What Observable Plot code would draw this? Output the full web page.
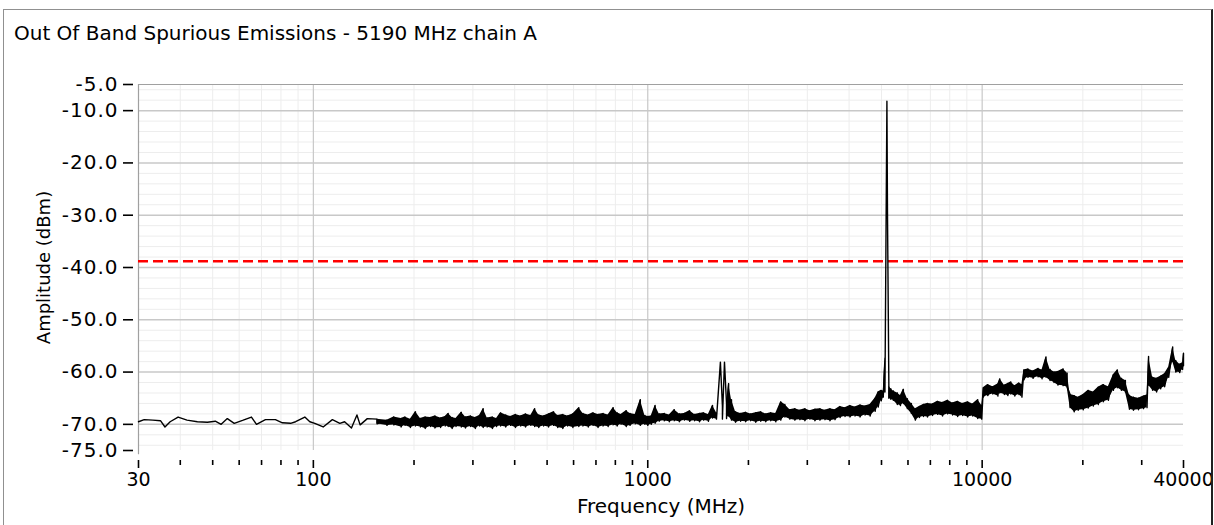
<!DOCTYPE html>
<html>
<head>
<meta charset="utf-8">
<script src="https://cdn.jsdelivr.net/npm/d3@7"></script>
<script src="https://cdn.jsdelivr.net/npm/@observablehq/plot@0.6"></script>
<style>
html, body { margin: 0; padding: 0; background: #fff; }
#wrap { position: relative; width: 1214px; height: 525px; overflow: hidden; font-family: "DejaVu Sans", sans-serif; background: #fff; }
#title { position: absolute; left: 14px; top: 22px; font-size: 20px; line-height: 23px; white-space: nowrap; color: #000; }
#chart { position: absolute; left: 0; top: 50px; }
#frame { position: absolute; left: 3px; top: 9px; width: 1207px; height: 520px; border-left: 1px solid #909090; border-top: 1px solid #909090; border-right: 2px solid #202020; pointer-events: none; }
.yt text { letter-spacing: 1px; }
</style>
</head>
<body>
<div id="wrap">
  <div id="title"></div>
  <div id="chart"></div>
  <div id="frame"></div>
</div>
<script>
const chartTitle = "Out Of Band Spurious Emissions - 5190 MHz chain A";
const xAxisLabel = "Frequency (MHz)";
const yAxisLabel = "Amplitude (dBm)";

const limitDbm = -38.8;

const yTickValues = [-5, -10, -20, -30, -40, -50, -60, -70, -75];
const yMajorGrid = [-10, -20, -30, -40, -50, -60, -70];
const yMinorGrid = [-6, -8, -12, -14, -16, -18, -22, -24, -26, -28, -32, -34, -36, -38, -42, -44, -46, -48, -52, -54, -56, -58, -62, -64, -66, -68, -72, -74];

const xTickLabels = [30, 100, 1000, 10000, 40000];
const xMajorGrid = [100, 1000, 10000];
const xMinorGrid = [40, 50, 60, 70, 80, 90, 200, 300, 400, 500, 600, 700, 800, 900, 2000, 3000, 4000, 5000, 6000, 7000, 8000, 9000, 20000, 30000];

// trace samples: frequency (MHz), upper and lower envelope of the trace (dBm)
const freqMHz = [
  30, 31.2, 33.1, 34.9, 36.0, 37.3, 39.4, 41.9, 45.0, 48.2, 50.9, 53.0, 55.3, 58.0, 61.7, 65.3, 67.6, 71.9, 77.0, 80.8,
  85.5, 88.5, 94.3, 97.6, 101, 107, 114, 120, 124, 130, 135, 138, 145, 155, 166, 174, 183,
  188, 195, 202, 209, 216, 224, 231, 240, 248, 253, 260, 267, 277, 285, 295, 305, 314, 322, 331, 343,
  353, 363, 376, 389, 402, 417, 431, 447, 459, 472, 488, 505, 523, 538, 557, 576, 597, 622, 640, 664,
  686, 710, 735, 761, 788, 810, 832, 862, 885, 917, 950, 980, 1000,
  1024, 1052, 1082, 1120, 1160, 1200, 1243, 1287, 1334, 1380, 1428, 1468, 1518, 1562, 1605, 1649, 1672, 1696, 1720, 1745,
  1780, 1830, 1895, 1962, 2031, 2103, 2177, 2253, 2332, 2414, 2499, 2570, 2660, 2753, 2850, 2950, 3054, 3161, 3272, 3387,
  3506, 3629, 3757, 3889, 4025, 4167, 4313, 4465, 4622, 4784, 4887, 4991, 5061, 5120, 5190, 5210, 5260, 5330,
  5423, 5575, 5695, 5812, 5975, 6142, 6314, 6490, 6673, 6862, 7103, 7354, 7612, 7880, 8158, 8445, 8742, 9050, 9369, 9698, 9970,
  10080, 10390, 10760, 11140, 11290, 11650, 11930, 12180, 12520, 12880, 13150, 13330, 13700, 14190, 14690, 15100, 15520, 15960, 16400, 16860,
  17460, 17950, 18330, 18840, 19370, 20050, 20760, 21490, 22240, 23030, 23840, 24680, 25370, 26080, 26810, 27570, 28340, 29340, 30380, 31110,
  31450, 32330, 33240, 34170, 35130, 36120, 37130, 37920, 38960, 39750, 40000
];
const ampHi = [
  -69.5, -69.1, -69.2, -69.3, -70.5, -69.5, -68.6, -69.2, -69.5, -69.6, -69.4, -70.0, -68.9, -69.8, -69.2, -68.6, -70.0, -69.1, -69.1, -69.7,
  -69.8, -69.5, -68.6, -69.5, -69.8, -70.5, -69.1, -69.8, -69.5, -70.7, -68.2, -70.1, -68.9, -69.0, -69.2, -68.6, -68.9,
  -68.6, -69.0, -67.6, -68.9, -68.6, -68.7, -68.4, -68.8, -68.5, -67.9, -68.7, -68.9, -67.7, -68.6, -68.4, -68.7, -68.3, -67.0, -68.8, -68.6,
  -68.9, -67.8, -68.2, -68.5, -68.1, -68.4, -68.0, -68.3, -67.0, -68.2, -68.4, -68.0, -67.6, -68.3, -68.1, -68.4, -68.0, -66.8, -67.9, -68.2,
  -67.8, -68.1, -67.9, -68.2, -66.8, -67.8, -68.1, -67.4, -67.9, -68.1, -65.3, -68.3, -68.5,
  -68.4, -66.4, -68.0, -67.9, -68.2, -67.2, -68.0, -67.9, -67.4, -68.1, -67.9, -67.8, -68.1, -66.4, -67.8, -58.1, -66.5, -58.1, -66.0, -62.2,
  -65.3, -67.6, -67.9, -67.7, -68.0, -67.8, -67.6, -68.0, -67.8, -67.9, -65.7, -66.2, -67.2, -67.0, -67.3, -67.0, -67.4, -67.1, -67.0, -67.3,
  -67.0, -67.2, -66.6, -66.8, -66.4, -66.7, -66.3, -66.5, -66.2, -65.0, -63.8, -63.5, -63.6, -57.3, -8.2, -29.2, -62.6, -63.2,
  -63.6, -64.0, -64.5, -63.3, -65.1, -66.0, -67.0, -66.6, -66.2, -66.0, -66.1, -65.6, -65.8, -65.4, -65.9, -65.6, -66.0, -65.7, -66.1, -65.3, -66.4,
  -63.0, -62.4, -62.8, -62.3, -61.3, -62.5, -62.2, -61.9, -62.6, -62.1, -62.4, -59.6, -59.4, -59.8, -59.3, -59.6, -57.1, -59.5, -60.0, -59.9,
  -59.4, -60.2, -64.3, -64.5, -64.8, -64.3, -63.5, -63.8, -62.9, -62.4, -62.8, -60.5, -59.6, -61.2, -61.6, -64.5, -64.8, -65.0, -64.6, -64.4,
  -57.0, -61.0, -61.2, -60.8, -60.3, -59.1, -55.2, -57.8, -58.5, -58.2, -56.4
];
const ampLo = [
  -69.5, -69.1, -69.2, -69.3, -70.5, -69.5, -68.6, -69.2, -69.5, -69.6, -69.4, -70.0, -68.9, -69.8, -69.2, -68.6, -70.0, -69.1, -69.1, -69.7,
  -69.8, -69.5, -68.6, -69.5, -69.8, -70.5, -69.1, -69.8, -69.5, -70.7, -68.2, -70.1, -68.9, -69.9, -70.2, -70.1, -70.5,
  -70.2, -70.6, -70.3, -70.5, -70.8, -70.4, -70.7, -70.6, -70.3, -70.4, -70.8, -70.4, -70.5, -70.7, -70.4, -70.8, -70.3, -70.6, -70.5, -70.8,
  -70.4, -70.3, -70.5, -70.2, -70.6, -70.3, -70.5, -70.2, -70.4, -70.6, -70.3, -70.5, -70.2, -70.6, -70.8, -70.3, -70.6, -70.4, -70.3, -70.5,
  -70.2, -70.6, -70.3, -70.4, -70.1, -70.3, -70.0, -70.4, -70.2, -69.9, -70.2, -70.0, -70.2,
  -70.0, -69.8, -69.4, -69.3, -69.5, -69.3, -69.5, -69.2, -69.4, -69.3, -69.5, -69.2, -69.4, -68.8, -69.0, -58.1, -69.0, -58.1, -68.9, -68.4,
  -69.2, -69.6, -69.4, -69.5, -69.3, -69.6, -69.4, -69.5, -69.3, -69.5, -69.2, -68.6, -69.0, -69.2, -69.1, -69.3, -69.0, -69.3, -69.2, -69.1,
  -69.3, -69.1, -68.7, -68.5, -68.6, -68.4, -68.6, -68.2, -68.4, -67.5, -66.7, -65.5, -64.8, -63.8, -8.2, -29.2, -65.0, -65.2,
  -65.4, -66.2, -66.4, -66.0, -67.0, -67.9, -69.2, -68.7, -68.5, -68.6, -68.3, -68.1, -68.4, -68.0, -68.2, -68.5, -68.3, -68.6, -68.4, -68.9, -69.0,
  -64.8, -64.5, -64.2, -64.6, -64.0, -64.3, -64.5, -64.2, -64.6, -64.3, -64.8, -61.5, -61.0, -61.2, -60.9, -61.3, -61.0, -61.6, -62.0, -62.5,
  -62.6, -62.9, -66.8, -67.6, -67.3, -67.2, -66.9, -66.5, -66.2, -65.7, -65.4, -63.5, -63.0, -63.5, -63.8, -67.1, -67.3, -67.2, -67.0, -66.8,
  -62.5, -63.5, -63.8, -63.2, -62.8, -61.0, -58.0, -60.0, -60.1, -59.5, -58.8
];

document.getElementById("title").textContent = chartTitle;

// zig-zag trace through each sample's upper and lower reading
const trace = [];
const band = [];
freqMHz.forEach((f, i) => {
  trace.push({f, v: ampHi[i]});
  if (ampLo[i] !== ampHi[i]) trace.push({f, v: ampLo[i]});
  const thick = ampLo[i] !== ampHi[i];
  band.push({f, hi: thick ? ampHi[i] : NaN, lo: thick ? ampLo[i] : NaN});
});

const font = "DejaVu Sans, sans-serif";

const chart = Plot.plot({
  width: 1214,
  height: 475,
  marginLeft: 138,
  marginRight: 31,
  marginTop: 34,
  marginBottom: 75,
  style: {fontFamily: font, fontSize: "18px", background: "transparent", overflow: "visible", color: "#000"},
  x: {type: "log", domain: [30, 40000], axis: null},
  y: {domain: [-75, -5], axis: null},
  marks: [
    Plot.ruleX(xMinorGrid, {stroke: "#ededed", strokeWidth: 1}),
    Plot.ruleY(yMinorGrid, {stroke: "#ededed", strokeWidth: 1}),
    Plot.ruleX(xMajorGrid, {stroke: "#c8c8c8", strokeWidth: 1.2}),
    Plot.ruleY(yMajorGrid, {stroke: "#c8c8c8", strokeWidth: 1.5}),
    Plot.ruleY([-5], {stroke: "#a0a0a0", strokeWidth: 1.2}),
    Plot.ruleX([30], {stroke: "#a0a0a0", strokeWidth: 1.2, y1: -75.8, y2: -5}),
    Plot.ruleY([limitDbm], {stroke: "#ff0000", strokeWidth: 2.6, strokeDasharray: "10,5"}),
    Plot.areaY(band, {x: "f", y1: "lo", y2: "hi", fill: "#000", curve: "linear"}),
    Plot.line(trace, {x: "f", y: "v", stroke: "#000", strokeWidth: 1.4, curve: "linear"}),
    Plot.axisY(yTickValues, {anchor: "left", tickSize: 10, tickPadding: 5, dx: -5, strokeWidth: 1.6, tickFormat: d => d.toFixed(1), label: null, fontSize: 20, className: "yt"}),
    Plot.axisX(xMinorGrid, {anchor: "bottom", tickSize: 5, dy: 10, strokeWidth: 1.6, tickFormat: () => "", label: null}),
    Plot.axisX(xTickLabels, {anchor: "bottom", tickSize: 8, tickPadding: 4, dy: 10, strokeWidth: 1.6, tickFormat: d => String(d), label: null, fontSize: 19}),
    Plot.text([yAxisLabel], {text: d => d, frameAnchor: "left", textAnchor: "middle", lineAnchor: "middle", dx: -94, rotate: -90, fontSize: 18}),
    Plot.text([xAxisLabel], {text: d => d, frameAnchor: "bottom", textAnchor: "middle", lineAnchor: "middle", dy: 56, fontSize: 20})
  ]
});
document.getElementById("chart").appendChild(chart);
</script>
</body>
</html>
